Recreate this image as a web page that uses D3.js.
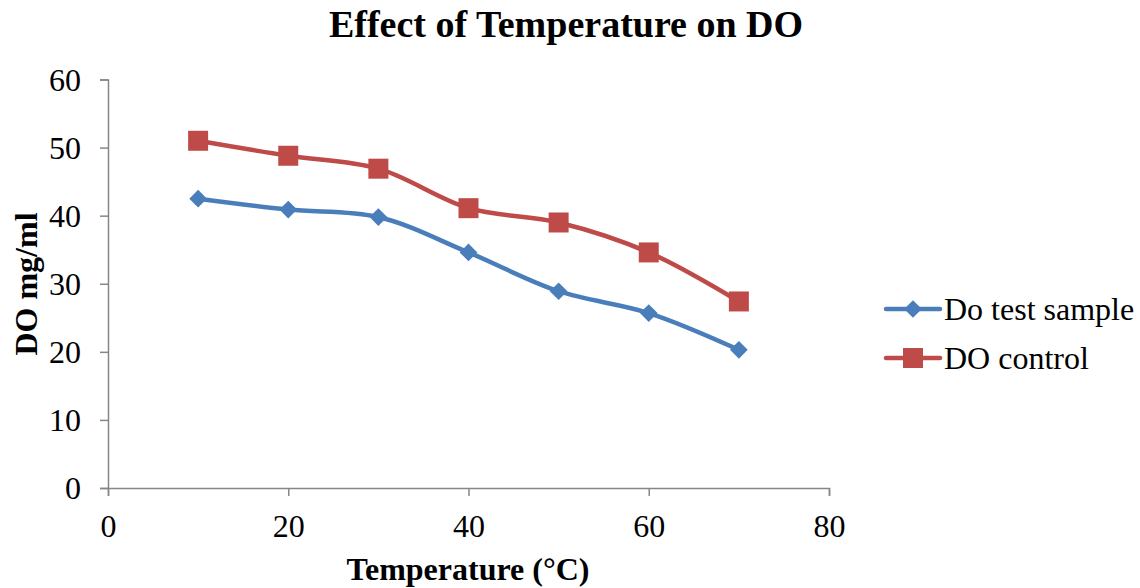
<!DOCTYPE html>
<html><head><meta charset="utf-8">
<script src="https://cdn.jsdelivr.net/npm/d3@7"></script>
<style>body{margin:0;background:#fff}svg{display:block}</style>
</head><body>
<svg id="c" width="1140" height="588"></svg>
<script>
const temps = [10, 20, 30, 40, 50, 60, 70];
const testSample = [42.5, 40.9, 39.8, 34.6, 28.9, 25.7, 20.3];
const control = [51.0, 48.8, 46.9, 41.1, 39.0, 34.6, 27.4];
const xTicks = [0, 20, 40, 60, 80];
const yTicks = [0, 10, 20, 30, 40, 50, 60];
const seriesNames = ["Do test sample", "DO control"];
const colors = ["#4A7EBB", "#BE4B48"];

const svg = d3.select("#c");
const font = "'Liberation Serif','Times New Roman',serif";
const x = d3.scaleLinear().domain([0, 80]).range([108, 829]);
const y = d3.scaleLinear().domain([0, 60]).range([488, 79.5]);

const axisColor = "#868686";
const gx = svg.append("g").attr("transform", "translate(0,488)")
  .call(d3.axisBottom(x).tickValues(xTicks).tickSize(8).tickPadding(18));
const gy = svg.append("g").attr("transform", "translate(108,0)")
  .call(d3.axisLeft(y).tickValues(yTicks).tickSize(8).tickPadding(19));
[gx, gy].forEach(g => {
  g.select(".domain").attr("stroke", axisColor).attr("stroke-width", 1.5);
  g.selectAll(".tick line").attr("stroke", axisColor).attr("stroke-width", 1.5);
  g.selectAll("text").attr("font-family", font).attr("font-size", 32).attr("fill", "#000");
});
gy.selectAll("text").attr("dy", "0.33em");

const line = d3.line().curve(d3.curveCatmullRom.alpha(0.5)).x(d => x(d[0])).y(d => y(d[1]));
const data = [testSample, control];
data.forEach((vals, i) => {
  const pts = temps.map((t, j) => [t, vals[j]]);
  svg.append("path").datum(pts).attr("d", line).attr("fill", "none")
    .attr("stroke", colors[i]).attr("stroke-width", 4.5).attr("stroke-linejoin", "round");
  const sym = i === 0 ? d3.symbol().type(d3.symbolDiamond2).size(200) : d3.symbol().type(d3.symbolSquare).size(400);
  svg.append("g").selectAll("path").data(pts).join("path")
    .attr("d", sym).attr("transform", d => `translate(${x(d[0])},${y(d[1])})`)
    .attr("fill", colors[i]);
});

// title
svg.append("text").attr("x", 566).attr("y", 37).attr("text-anchor", "middle")
  .attr("font-family", font).attr("font-weight", "bold").attr("font-size", 38).text("Effect of Temperature on DO");
// axis titles
svg.append("text").attr("x", 468).attr("y", 580).attr("text-anchor", "middle")
  .attr("font-family", font).attr("font-weight", "bold").attr("font-size", 32).text("Temperature (°C)");
svg.append("text").attr("transform", "translate(37,284) rotate(-90)").attr("text-anchor", "middle")
  .attr("font-family", font).attr("font-weight", "bold").attr("font-size", 32).text("DO mg/ml");

// legend
const legY = [309, 358];
seriesNames.forEach((n, i) => {
  const g = svg.append("g");
  g.append("line").attr("x1", 886).attr("x2", 940).attr("y1", legY[i]).attr("y2", legY[i])
    .attr("stroke", colors[i]).attr("stroke-width", 4.5).attr("stroke-linecap", "round");
  const sym = i === 0 ? d3.symbol().type(d3.symbolDiamond2).size(200) : d3.symbol().type(d3.symbolSquare).size(400);
  g.append("path").attr("d", sym).attr("transform", `translate(913,${legY[i]})`).attr("fill", colors[i]);
  g.append("text").attr("x", 944).attr("y", legY[i]).attr("dy", "0.35em")
    .attr("font-family", font).attr("font-size", 32).text(n);
});
</script>
</body></html>
